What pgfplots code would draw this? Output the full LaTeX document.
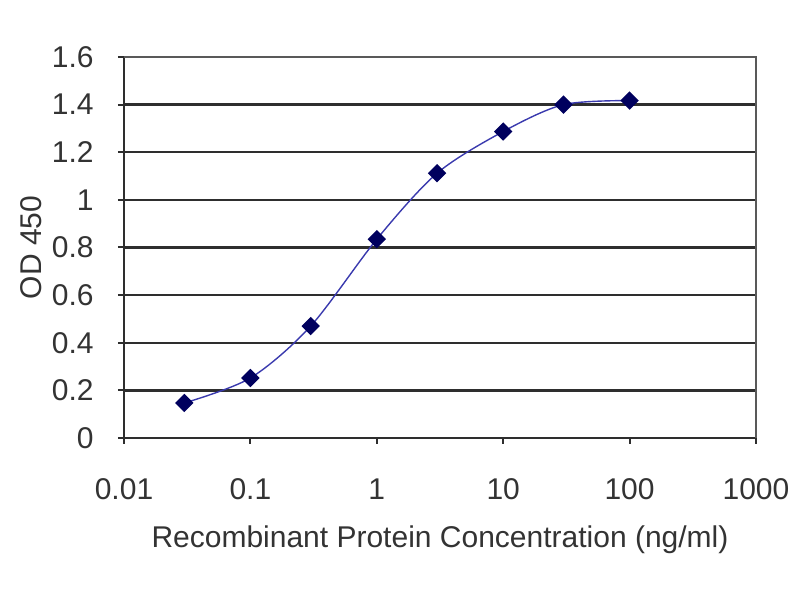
\documentclass[border=0pt]{standalone}
\usepackage{pgfplots}
\pgfplotsset{compat=1.18}
\usepackage{fontspec}
\setmainfont{Liberation Sans}
\definecolor{gridc}{HTML}{2E2E2E}
\definecolor{linec}{HTML}{3A3AAE}
\definecolor{markc}{HTML}{00005E}
\definecolor{txt}{HTML}{333333}
\begin{document}
\fontsize{15}{18}\selectfont
\begin{tikzpicture}
\path[use as bounding box] (0,0) rectangle (400pt,300pt);
\begin{axis}[
  at={(62pt,81pt)}, anchor=south west,
  scale only axis, width=316pt, height=190.5pt,
  xmode=log, xmin=0.01, xmax=1000,
  ymin=0, ymax=1.6,
  xtick={0.01,0.1,1,10,100,1000},
  xticklabels={0.01,0.1,1,10,100,1000},
  xminorticks=false,
  ytick={0,0.2,...,1.6},
  yticklabel style={/pgf/number format/fixed,/pgf/number format/precision=1},
  /pgf/number format/assume math mode=true,
  axis x line*=bottom, axis y line*=left,
  axis line style={gridc, line width=1.1pt, -},
  tick style={gridc, line width=1pt},
  tick align=outside,
  major tick length=3pt,
  ymajorgrids,
  major grid style={gridc, line width=1.2pt},
  ticklabel style={font=\fontsize{15}{18}\selectfont, text=txt},
  xticklabel shift=12pt,
  yticklabel shift=7pt,
  xlabel={Recombinant Protein Concentration (ng/ml)},
  ylabel={OD 450},
  label style={font=\fontsize{15}{18}\selectfont, text=txt},
  xlabel style={at={(axis description cs:0.5,-0.268)}, anchor=center},
  ylabel style={at={(axis description cs:-0.147,0.5)}, anchor=center},
  clip=false,
]
\addplot[linec, line width=0.7pt, smooth, mark=square*, mark size=2.9pt,
  mark options={fill=markc, draw=markc, solid, rotate=45}] coordinates {
  (0.03,0.147) (0.1,0.252) (0.3,0.47) (1,0.835) (3,1.112) (10,1.287) (30,1.40) (100,1.417)
};
\draw[gray!70!black, line width=0.8pt] (rel axis cs:0,1) -- (rel axis cs:1,1) -- (rel axis cs:1,0);
\end{axis}
\end{tikzpicture}
\end{document}
